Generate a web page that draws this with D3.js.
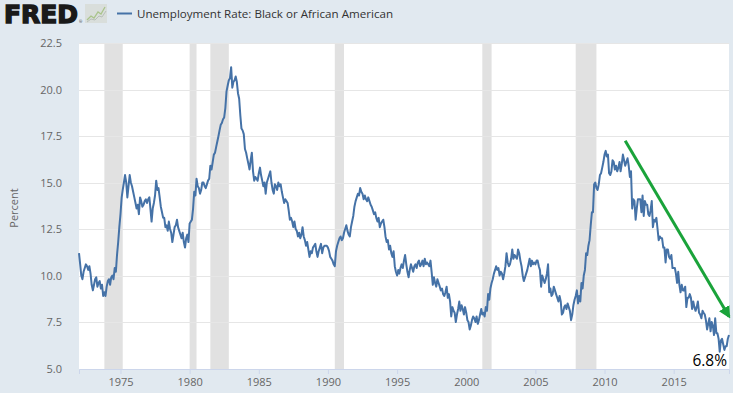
<!DOCTYPE html>
<html>
<head>
<meta charset="utf-8">
<script src="https://cdn.jsdelivr.net/npm/d3@7"></script>
<style>
  body { margin: 0; background: #e1e9f0; }
  svg { display: block; }
</style>
</head>
<body>
<div id="chart"></div>
<script>
// monthly values, Jan 1972 .. Jan 2019
var rate1970s = [
  11.2, 10.6, 10.0, 9.8, 10.2, 10.4, 10.6, 10.5, 10.3, 10.5, 10.1, 9.5,
  9.2, 9.5, 9.8, 9.9, 9.4, 9.6, 9.7, 9.3, 9.5, 8.9, 9.1, 8.9,
  9.4, 9.7, 9.8, 9.5, 9.9, 10.0, 9.8, 10.4, 10.2, 11.1, 11.8, 12.6,
  13.3, 14.2, 14.6, 15.0, 15.4, 15.0, 14.2, 14.8, 15.4, 15.0, 14.8, 14.5,
  14.2, 13.9, 13.6, 13.8, 13.3, 14.2, 14.0, 13.7, 13.8, 14.0, 14.1, 13.9,
  14.1, 14.2, 13.6, 12.9, 13.6, 13.9, 14.3, 15.1, 14.6, 14.7, 14.2, 13.7,
  13.4, 13.1, 13.1, 12.6, 12.7, 12.4, 12.9, 12.5, 12.3, 11.8, 12.2, 12.6,
  12.7, 13.0, 12.6, 12.4, 12.2, 12.0, 12.3, 11.8, 11.5, 12.0, 12.2, 11.8
];
var rate1980s = [
  12.8, 12.9, 13.0, 13.6, 14.5, 14.3, 15.2, 14.8, 14.7, 14.4, 14.6, 15.0,
  15.0, 14.8, 14.7, 14.9, 15.1, 15.2, 15.9, 15.7, 16.1, 16.5, 16.6, 16.9,
  17.2, 17.5, 17.8, 18.1, 18.2, 18.4, 18.5, 19.0, 19.9, 20.2, 20.5, 20.6,
  21.2, 20.1, 20.4, 20.5, 20.7, 20.4, 19.8, 19.5, 18.6, 17.9, 17.8, 17.6,
  16.8, 16.6, 16.3, 16.0, 15.7, 16.2, 16.6, 15.6, 15.1, 15.3, 15.2, 15.1,
  15.5, 15.8, 15.4, 15.1, 14.8, 15.0, 14.4, 15.0, 15.2, 15.4, 15.6, 15.0,
  14.6, 14.4, 14.9, 14.8, 14.6, 15.0, 14.8, 14.9, 14.5, 14.2, 13.9, 14.1,
  14.0, 13.9, 13.5, 13.0, 13.1, 12.9, 12.6, 12.9, 12.5, 12.4, 12.1, 12.3,
  12.0, 12.2, 12.6, 12.1, 11.9, 11.6, 11.8, 11.4, 11.0, 11.3, 11.2, 11.5,
  11.6, 11.7, 11.3, 11.0, 11.3, 11.5, 11.7, 11.2, 11.5, 11.6, 11.6, 11.6
];
var rate1990s = [
  11.5, 11.3, 11.0, 10.9, 10.8, 10.6, 10.5, 11.3, 11.6, 11.8, 12.0, 12.1,
  11.9, 12.0, 12.3, 12.5, 12.7, 12.4, 12.2, 12.1, 12.6, 12.9, 13.2, 13.7,
  14.0, 14.2, 14.4, 14.3, 14.7, 14.5, 14.4, 14.1, 14.3, 14.1, 14.0, 14.2,
  14.0, 13.8, 13.7, 13.5, 13.3, 13.4, 13.1, 12.9, 13.1, 12.6, 12.8, 12.9,
  13.0, 12.6, 12.1, 11.8, 11.9, 11.4, 11.6, 11.2, 11.0, 11.3, 10.5, 10.2,
  10.0, 10.3, 10.1, 10.4, 10.6, 10.4, 10.8, 11.1, 10.6, 10.2, 9.9, 10.3,
  10.6, 10.4, 10.2, 10.5, 10.6, 10.4, 10.7, 10.8, 10.5, 10.6, 10.8, 10.5,
  10.9, 10.6, 10.7, 10.6, 10.5, 10.8, 10.2, 9.5, 9.9, 9.6, 9.4, 9.8,
  9.6, 9.4, 9.2, 9.3, 9.0, 8.9, 9.1, 9.4, 8.8, 9.0, 8.6, 7.8,
  8.3, 8.1, 8.0, 7.5, 7.9, 8.2, 8.6, 8.1, 8.4, 8.2, 7.9, 8.3
];
var rate2000s = [
  8.0, 7.6, 7.5, 7.1, 7.3, 7.6, 7.8, 7.7, 7.5, 7.8, 7.4, 7.6,
  7.9, 8.2, 7.9, 8.0, 7.8, 8.3, 8.1, 9.0, 8.7, 9.3, 9.6, 9.8,
  10.1, 10.3, 10.5, 10.3, 10.4, 10.0, 10.2, 10.1, 9.8, 10.1, 10.5, 11.2,
  10.7, 10.5, 10.6, 10.9, 11.4, 10.9, 11.1, 11.0, 10.9, 11.4, 11.2, 10.8,
  10.5, 10.0, 9.7, 9.9, 10.1, 10.3, 10.6, 10.9, 10.5, 10.8, 10.6, 10.7,
  10.6, 10.8, 10.8, 10.5, 10.3, 9.4, 10.0, 9.8, 9.6, 9.8, 10.1, 10.6,
  9.1, 9.3, 8.9, 9.0, 9.4, 9.2, 9.0, 8.8, 8.6, 8.9, 8.6, 7.9,
  8.0, 8.3, 8.4, 8.2, 8.5, 8.3, 8.1, 7.6, 7.9, 8.4, 8.7, 8.9,
  9.2, 8.5, 8.9, 8.6, 9.6, 9.3, 10.0, 10.3, 11.2, 11.1, 11.6, 11.9,
  12.7, 13.4, 13.4, 14.9, 15.0, 14.7, 14.6, 14.9, 15.4, 15.5, 15.8, 16.1
];
var rate2010s = [
  16.5, 16.7, 16.4, 16.5, 15.5, 15.4, 15.6, 16.2, 16.1, 15.7, 15.9, 15.6,
  15.8, 16.1, 15.6, 16.0, 16.5, 16.2, 15.9, 16.1, 16.3, 15.9, 15.3, 15.6,
  13.6, 14.1, 14.0, 13.0, 13.6, 14.1, 14.1, 14.1, 13.4, 14.3, 13.2, 14.0,
  13.8, 13.8, 13.3, 13.2, 13.5, 14.0, 12.6, 13.0, 12.9, 13.1, 12.5, 11.9,
  12.1, 12.0, 12.0, 11.5, 11.5, 10.7, 11.4, 11.4, 11.0, 10.9, 11.1, 10.4,
  10.4, 10.4, 10.1, 9.6, 10.2, 9.5, 9.1, 9.5, 9.2, 9.2, 9.4, 8.3,
  8.8, 8.8, 9.0, 8.8, 8.2, 8.6, 8.3, 8.1, 8.3, 8.6, 8.0, 7.9,
  7.7, 8.1, 8.0, 7.9, 7.6, 7.1, 7.4, 7.7, 7.0, 7.5, 7.3, 6.8,
  7.7, 6.9, 6.9, 6.6, 5.9, 6.5, 6.6, 6.3, 6.0, 6.2, 6.2, 6.6,
  6.8
];

var recessions = [
  ["1973-11-01", "1975-03-01"],
  ["1980-01-01", "1980-07-01"],
  ["1981-07-01", "1982-11-01"],
  ["1990-07-01", "1991-03-01"],
  ["2001-03-01", "2001-11-01"],
  ["2007-12-01", "2009-06-01"]
];
var yTicks = [5, 7.5, 10, 12.5, 15, 17.5, 20, 22.5];
var xTickYears = [1975, 1980, 1985, 1990, 1995, 2000, 2005, 2010, 2015];
var seriesName = "Unemployment Rate: Black or African American";
var trendFrom = ["2011-07-01", 17.25];
var trendTo = ["2019-01-01", 7.8];
var lastLabel = "6.8%";

var width = 733, height = 393;
var margin = {top: 43, right: 4, bottom: 24, left: 79};
var fontFamily = "'Open Sans', 'DejaVu Sans', sans-serif";

var parse = d3.timeParse("%Y-%m-%d");
var rates = rate1970s.concat(rate1980s, rate1990s, rate2000s, rate2010s);
var data = rates.map(function(v, i) {
  return {date: new Date(1972, i, 1), value: v};
});

var x = d3.scaleTime()
  .domain([data[0].date, data[data.length - 1].date])
  .range([margin.left, width - margin.right]);
var y = d3.scaleLinear()
  .domain([5, 22.5])
  .range([height - margin.bottom - 0.5, margin.top]);

var svg = d3.select("#chart").append("svg")
  .attr("width", width)
  .attr("height", height);

svg.append("rect")
  .attr("width", width).attr("height", height)
  .attr("fill", "#e1e9f0");

// header: FRED logo + legend
svg.append("text")
  .attr("x", 4).attr("y", 23)
  .attr("font-family", "'DejaVu Sans', 'Liberation Sans', sans-serif")
  .attr("font-weight", "bold")
  .attr("font-size", 24)
  .attr("textLength", 74)
  .attr("lengthAdjust", "spacingAndGlyphs")
  .attr("fill", "#1a1a1a")
  .attr("stroke", "#1a1a1a")
  .attr("stroke-width", 1.4)
  .text("FRED");
svg.append("text")
  .attr("x", 79).attr("y", 23)
  .attr("font-family", fontFamily)
  .attr("font-size", 4)
  .attr("fill", "#333")
  .text("®");
var icon = svg.append("g").attr("transform", "translate(85,4)");
icon.append("rect")
  .attr("width", 22).attr("height", 19)
  .attr("fill", "#d9dedb");
icon.append("polyline")
  .attr("points", "2,16 6,12 9,14 13,8 16,10 20,3")
  .attr("fill", "none").attr("stroke", "#a9c48b").attr("stroke-width", 1.3);
icon.append("polyline")
  .attr("points", "2,18 6,15 10,16 14,12 17,13 21,7")
  .attr("fill", "none").attr("stroke", "#b8bfb9").attr("stroke-width", 1);

svg.append("line")
  .attr("x1", 117).attr("x2", 132)
  .attr("y1", 13.5).attr("y2", 13.5)
  .attr("stroke", "#4572a7").attr("stroke-width", 2);
svg.append("text")
  .attr("x", 137).attr("y", 18)
  .attr("font-family", fontFamily)
  .attr("font-size", 11.6)
  .attr("fill", "#333")
  .text(seriesName);

// plot background
svg.append("rect")
  .attr("x", margin.left).attr("y", margin.top)
  .attr("width", width - margin.left - margin.right)
  .attr("height", height - margin.top - margin.bottom)
  .attr("fill", "#ffffff");

// recession shading
svg.append("g").selectAll("rect")
  .data(recessions)
  .join("rect")
  .attr("x", function(d) { return x(parse(d[0])); })
  .attr("width", function(d) { return x(parse(d[1])) - x(parse(d[0])); })
  .attr("y", margin.top)
  .attr("height", height - margin.top - margin.bottom)
  .attr("fill", "#e1e1e1");

// grid lines
svg.append("g").selectAll("line")
  .data(yTicks.slice(1))
  .join("line")
  .attr("x1", margin.left).attr("x2", width - margin.right)
  .attr("y1", function(d) { return Math.round(y(d)) + 0.5; })
  .attr("y2", function(d) { return Math.round(y(d)) + 0.5; })
  .attr("stroke", "#e6e6e6")
  .attr("stroke-width", 1);

// y axis labels
var yAxis = svg.append("g")
  .attr("transform", "translate(" + (margin.left - 14) + ",0)")
  .call(d3.axisLeft(y).tickValues(yTicks).tickFormat(d3.format(".1f")).tickSize(0));
yAxis.select(".domain").remove();
yAxis.selectAll("text")
  .attr("font-family", fontFamily)
  .attr("font-size", 11)
  .attr("fill", "#666");

svg.append("text")
  .attr("transform", "translate(18," + 208 + ") rotate(-90)")
  .attr("text-anchor", "middle")
  .attr("font-family", fontFamily)
  .attr("font-size", 11)
  .attr("fill", "#666")
  .text("Percent");

// x axis
var xAxis = svg.append("g")
  .attr("transform", "translate(0," + (height - margin.bottom) + ")")
  .call(d3.axisBottom(x)
    .tickValues(xTickYears.map(function(yr) { return new Date(yr, 0, 1); }))
    .tickFormat(d3.timeFormat("%Y"))
    .tickSize(5)
    .tickPadding(4));
xAxis.select(".domain").attr("stroke", "#ccd6eb");
xAxis.selectAll(".tick line").attr("stroke", "#ccd6eb");
xAxis.selectAll("text")
  .attr("font-family", fontFamily)
  .attr("font-size", 11)
  .attr("fill", "#666");

// series line
var line = d3.line()
  .x(function(d) { return x(d.date); })
  .y(function(d) { return y(d.value); });
svg.append("path")
  .datum(data)
  .attr("d", line)
  .attr("fill", "none")
  .attr("stroke", "#4572a7")
  .attr("stroke-width", 2)
  .attr("stroke-linejoin", "round");

// trend arrow annotation
svg.append("defs").append("marker")
  .attr("id", "arrow")
  .attr("viewBox", "0 0 10 10")
  .attr("refX", 8).attr("refY", 5)
  .attr("markerWidth", 4).attr("markerHeight", 4)
  .attr("orient", "auto")
  .append("path")
  .attr("d", "M0,0 L10,5 L0,10 z")
  .attr("fill", "#1aa33a");
svg.append("line")
  .attr("x1", x(parse(trendFrom[0]))).attr("y1", y(trendFrom[1]))
  .attr("x2", x(parse(trendTo[0]))).attr("y2", y(trendTo[1]))
  .attr("stroke", "#1aa33a")
  .attr("stroke-width", 3)
  .attr("marker-end", "url(#arrow)");

svg.append("text")
  .attr("x", 727).attr("y", 366)
  .attr("text-anchor", "end")
  .attr("font-family", fontFamily)
  .attr("font-size", 15.5)
  .attr("fill", "#000")
  .text(lastLabel);
</script>
</body>
</html>
